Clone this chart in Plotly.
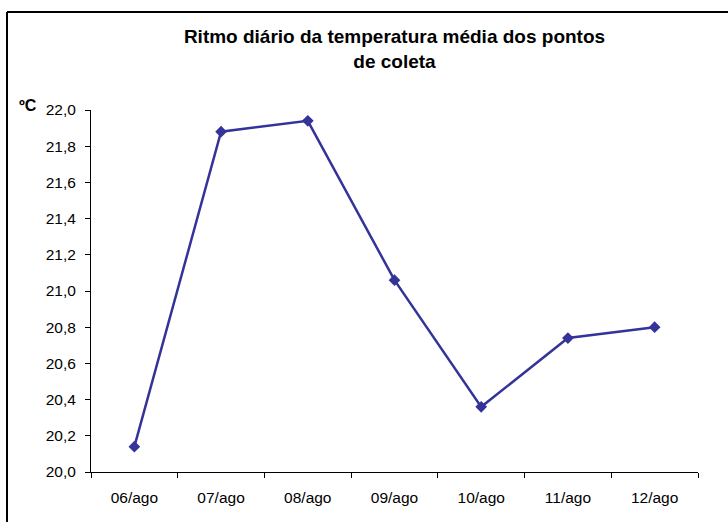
import plotly.graph_objects as go

categories = ["06/ago", "07/ago", "08/ago", "09/ago", "10/ago", "11/ago", "12/ago"]
temperature = [20.14, 21.88, 21.94, 21.06, 20.36, 20.74, 20.80]
y_ticks = [20.0, 20.2, 20.4, 20.6, 20.8, 21.0, 21.2, 21.4, 21.6, 21.8, 22.0]

FONT = "Liberation Sans, Arial, sans-serif"
L, R, T, B = 91, 30, 110, 50
W, H = 728, 522
PW, PH = W - L - R, H - T - B

def px_x(p):
    return (p - L) / PW

def px_y(p):
    return (H - B - p) / PH

fig = go.Figure()
fig.add_trace(go.Scatter(
    x=categories, y=temperature, mode="lines+markers",
    line=dict(color="#333399", width=2.5),
    marker=dict(symbol="diamond", size=9, color="#333399"),
    showlegend=False,
))

fig.update_layout(
    width=W, height=H,
    margin=dict(l=L, r=R, t=T, b=B),
    paper_bgcolor="white", plot_bgcolor="white",
    separators=",.",
    font=dict(family=FONT, size=15.5, color="black"),
    title=dict(
        text="<b>Ritmo diário da temperatura média dos pontos<br>de coleta</b>",
        x=0.5, xref="paper", xanchor="center",
        y=1 - 43 / H, yref="container", yanchor="middle",
        font=dict(family=FONT, size=19, color="black"),
    ),
    xaxis=dict(
        type="category", range=[-0.5, 6.5],
        showgrid=False, zeroline=False,
        showline=True, linecolor="black", linewidth=1,
        ticks="outside", ticklen=5, tickcolor="black", tickson="boundaries",
        ticklabelstandoff=11,
    ),
    yaxis=dict(
        range=[20.0, 22.0], tickvals=y_ticks, tickformat=".1f",
        showgrid=False, zeroline=False,
        showline=True, linecolor="black", linewidth=1,
        ticks="outside", ticklen=5, tickcolor="black",
        ticklabelstandoff=6,
    ),
    annotations=[dict(
        text="<b>ºC</b>", xref="paper", yref="paper",
        x=px_x(28), y=px_y(105), xanchor="center", yanchor="middle",
        showarrow=False, font=dict(family=FONT, size=16, color="black"),
    )],
    shapes=[
        dict(type="line", xref="paper", yref="paper",
             x0=px_x(7), x1=px_x(740), y0=px_y(12), y1=px_y(12),
             line=dict(color="black", width=2)),
        dict(type="line", xref="paper", yref="paper",
             x0=px_x(7), x1=px_x(7), y0=px_y(12), y1=px_y(540),
             line=dict(color="black", width=2)),
    ],
)

fig.write_html(
    "out.html",
    config={"displayModeBar": False},
    post_script=(
        "document.body.style.margin='0';"
        "document.body.style.overflow='hidden';"
        "document.documentElement.style.overflow='hidden';"
    ),
)
